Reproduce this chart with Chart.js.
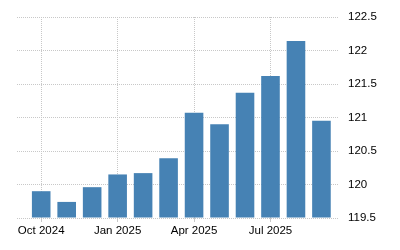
<!DOCTYPE html>
<html>
<head>
<meta charset="utf-8">
<script src="https://cdn.jsdelivr.net/npm/chart.js@4"></script>
<style>
  html, body { margin: 0; padding: 0; background: #fff; }
  #wrap { width: 400px; height: 250px; }
</style>
</head>
<body>
<div id="wrap"><canvas id="cpiChart"></canvas></div>
<script>
// monthly values, Oct 2024 .. Sep 2025
const months = ["Oct 2024", "Nov 2024", "Dec 2024", "Jan 2025", "Feb 2025", "Mar 2025",
  "Apr 2025", "May 2025", "Jun 2025", "Jul 2025", "Aug 2025", "Sep 2025"];
const values = [119.9, 119.74, 119.96, 120.15, 120.17, 120.39, 121.07, 120.9, 121.37, 121.62, 122.14, 120.95];
const labelIndexes = [0, 3, 6, 9];
const yTicks = [119.5, 120, 120.5, 121, 121.5, 122, 122.5];

const ctx = document.getElementById("cpiChart").getContext("2d");
new Chart(ctx, {
  type: "bar",
  data: {
    datasets: [
      {
        data: values.map((v, i) => ({ x: i, y: v })),
        backgroundColor: "#4682b4",
        barPercentage: 0.73,
        categoryPercentage: 1,
        base: 119.5,
      },
    ],
  },
  options: {
    responsive: true,
    maintainAspectRatio: false,
    animation: false,
    layout: { padding: { left: 17, top: 17, right: 0, bottom: 0 } },
    plugins: {
      legend: { display: false },
      tooltip: { enabled: false },
    },
    scales: {
      x: {
        type: "linear",
        min: -0.95,
        max: 11.65,
        offset: false,
        afterBuildTicks: (scale) => {
          scale.ticks = labelIndexes.map((v) => ({ value: v }));
        },
        afterFit: (scale) => {
          scale.height = 32;
        },
        border: { display: false, dash: [1, 1] },
        grid: {
          offset: false,
          color: "#c8c8c8",
          lineWidth: 1,
          tickLength: 4,
          tickColor: "#c8c8c8",
        },
        ticks: {
          color: "#000",
          font: { family: "Liberation Sans, Arial", size: 11.5 },
          padding: 2,
          maxRotation: 0,
          autoSkip: false,
          callback: (v) => months[v],
        },
      },
      y: {
        position: "right",
        min: 119.5,
        max: 122.5,
        afterBuildTicks: (scale) => {
          scale.ticks = yTicks.map((v) => ({ value: v }));
        },
        afterFit: (scale) => {
          scale.width = 62;
        },
        border: { display: false, dash: [1, 1] },
        grid: {
          color: "#c8c8c8",
          lineWidth: 1,
          drawTicks: false,
        },
        ticks: {
          color: "#000",
          font: { family: "Liberation Sans, Arial", size: 11.5 },
          padding: 10,
          callback: (v) => String(v),
        },
      },
    },
  },
});
</script>
</body>
</html>
